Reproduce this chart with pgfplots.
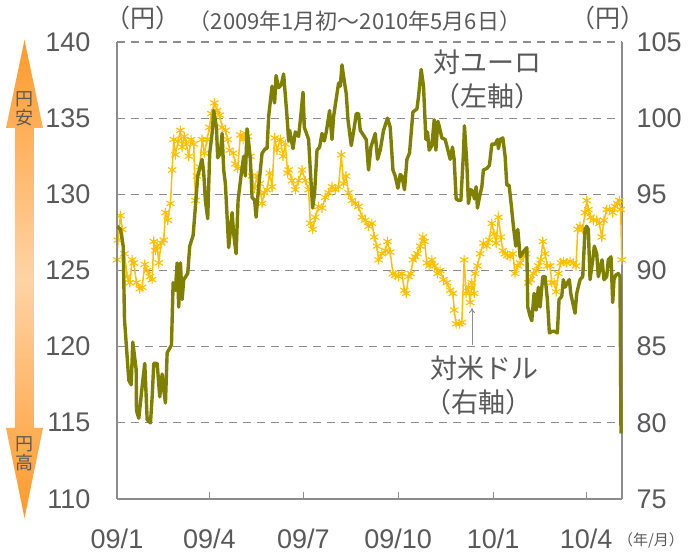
\documentclass[border=0pt]{standalone}
\usepackage{fontspec}
\setmainfont{Liberation Sans}
\newfontfamily\jp{Noto Sans CJK JP}
\usepackage{pgfplots}
\pgfplotsset{compat=1.18}
\usetikzlibrary{arrows.meta}
\definecolor{txt}{HTML}{595959}
\definecolor{eurc}{HTML}{808000}
\definecolor{usdc}{HTML}{FFC000}
\definecolor{gridc}{HTML}{8C8C8C}
\definecolor{arr}{HTML}{FF9A2A}
\definecolor{arrmid}{HTML}{FFD3A6}

\pgfplotstableread{
x y
0.7 127.9
4 127.7
6.7 126.6
8 121.8
12.3 117.8
14.7 117.5
16.3 120.3
19.7 118.5
20 115.8
22.3 115.3
25.7 117.4
28.3 118.9
30.7 115.2
34 115.0
35.7 116.7
37.3 118.9
40.7 118.9
43.3 116.7
45.7 118.2
47.3 117.2
49 116.3
50.7 119.6
55 120.1
56.7 124.2
59 123.7
60.7 125.5
62.3 122.6
64 125.5
65.7 123.1
67.3 124.4
71.3 124.8
73.3 126.6
76.7 127.3
79 129.2
81.3 131.2
85.7 132.3
87.3 131.4
89 129.6
91.3 128.4
93.3 132.7
95.7 134.0
97.3 135.5
100 134.4
101.3 132.4
104 132.7
105.7 134.0
107.3 131.6
109 130.7
112.3 126.5
115.7 128.8
117.3 127.4
119.7 126.1
121.7 129.6
125 131.4
127.3 132.5
129 131.2
130.7 134.3
132.3 133.4
134 132.3
135.7 129.8
138.3 129.6
139.7 128.5
142.3 130.5
145.7 132.7
149 133.0
150.7 133.0
152.3 135.1
155.7 137.1
158.3 136.0
159.7 137.8
162.3 137.0
165 137.2
167.3 137.9
170.7 135.1
172.3 133.5
173.3 134.2
176.7 133.0
179 134.1
182.3 133.8
184.7 135.3
186.7 136.7
188 134.4
192.3 133.6
194 131.6
196.3 129.1
198.3 130.1
200.7 132.9
203.3 133.1
205.7 134.0
208 133.5
210 134.1
213.3 135.5
215.7 133.6
217.3 135.1
220.7 136.6
222.3 137.3
224 137.1
225.7 138.5
228.3 137.3
230 136.6
231.7 134.9
235 133.2
238 134.4
240 135.3
242.3 135.3
244 134.2
250 133.6
252.3 131.6
254.7 133.1
259 134.0
261.3 132.3
264 132.9
267.3 134.2
271.3 135.0
274 134.4
276.7 131.6
279 131.2
281.7 130.4
284 131.3
285.7 131.2
288.3 130.3
290.7 132.3
293.3 132.7
296.7 135.4
300.7 135.6
302.3 136.4
305 138.2
307.3 137.1
309.7 133.6
311.3 134.1
313 132.9
315.7 133.2
318 134.9
319.7 132.9
321.7 134.8
323.3 134.4
325.7 133.7
329 133.6
331.7 132.9
334 132.3
336.3 133.1
338 132.3
340 129.7
342.3 129.6
344.7 129.6
347.3 132.7
348.3 134.5
350.7 132.0
352.3 129.4
354.7 130.3
356.7 130.2
358.3 129.7
360 130.5
361.3 129.1
363.3 129.8
365.7 130.5
367.3 131.6
370.7 131.7
373.3 131.9
375.7 133.3
379 133.3
381.3 133.6
382.3 133.0
384 133.6
386.7 133.7
389 132.5
390.7 130.6
393 130.6
395 129.4
397.3 127.9
399.7 126.6
401.7 127.7
404 125.9
406.3 126.1
408 126.3
410.7 126.5
411.7 122.6
414 122.0
415.7 121.7
418 123.5
420 122.4
422.3 123.9
424 122.6
426.7 124.6
429 124.6
431.3 123.1
433.3 120.9
435.7 121.0
439 121.0
441.3 120.9
443 123.1
445.7 123.3
447.3 124.4
449 123.9
451.3 124.2
453.3 124.4
454.7 123.5
457.3 122.7
459 122.2
460.7 123.5
464 124.4
466.7 124.6
469 127.7
470.7 127.9
472.3 127.7
474 124.4
476.7 125.7
478.3 126.6
480.7 126.1
482.3 124.6
484 125.1
486 125.7
488 124.4
490.7 124.6
492.3 125.7
495 125.9
496.7 122.9
498 124.4
499.7 124.7
502.3 124.8
504 124.6
505 114.3
}\eurtable

\pgfplotstableread{
x y
0.5 90.7
1.3 92.0
4 93.6
5.7 92.7
8 91.1
10.7 89.6
13.3 89.2
15.7 90.7
17.3 90.5
20 89.2
23.3 88.8
25.7 88.9
28.3 90.4
30.7 90.0
33.3 89.6
35.7 89.4
37.3 91.9
39 91.3
40.7 91.6
42.3 90.5
44.7 91.8
47.3 92.0
49 93.8
51.3 93.3
54 94.4
55.7 96.6
57.3 98.6
59 97.6
61.7 98.5
64 99.2
65.7 98.1
68 98.8
70 98.3
72.3 97.5
74.7 98.6
77.3 98.3
79 94.6
80.7 96.2
83.3 96.8
85.7 98.6
88 97.7
90.7 98.6
93 99.4
95 100.3
98 101.0
100.7 100.5
103.3 100.2
105.7 99.4
109 99.2
111.3 98.6
113.3 97.9
116.7 97.7
119 97.0
121.3 96.7
124 98.9
126.7 98.6
129 99.0
131.3 98.8
134 97.5
135.7 96.2
138 95.4
140.7 96.2
143.3 95.7
145.7 94.4
148 95.1
150.7 95.3
153.3 96.4
155.7 95.5
158.3 98.7
160.7 97.9
164 98.6
166.7 97.5
169 98.3
171.3 96.4
172.3 96.6
175.7 95.9
179 95.3
182.3 95.9
185.7 96.6
189 95.9
192.3 95.3
194 93.1
196.3 92.7
199 93.5
202.3 94.2
205.7 94.1
209 94.8
212.3 95.1
215.7 95.5
219 95.3
222.3 95.5
225 97.6
227.3 95.7
229.7 96.2
232.3 95.1
235.7 94.6
239 94.4
242.3 94.2
245.7 93.5
249 93.3
252.3 92.9
255.7 93.1
258 92.2
260.7 91.6
262.3 90.7
265.7 91.1
269 91.3
271.3 91.9
274 91.2
276.7 89.8
279 89.7
282.3 89.6
285.7 89.8
288 88.7
290 88.5
292.3 89.6
294.7 89.8
296.7 90.7
299 90.9
301.3 91.1
304 91.6
306.7 92.2
308.3 91.9
310.7 90.5
313 90.3
315.7 90.7
318.3 90.3
321.3 89.8
324 90.0
327.3 89.4
330.7 89.2
334 88.7
336.7 88.5
338 87.4
340 86.5
343.3 86.5
345.7 86.6
348 90.7
350 88.5
352.3 88.9
354 87.9
355.7 89.2
358 88.5
359 89.8
361.3 90.3
364 91.1
367.3 91.8
370.7 91.6
373 92.0
375.7 93.1
378 92.4
380 91.8
382.3 93.5
384.7 92.2
386.7 91.3
389 91.1
391.3 91.0
394 90.9
396.7 91.1
399 89.8
401.7 90.3
404 90.5
407.3 90.9
410 91.1
412.3 89.2
414.7 89.4
417.3 89.8
420 90.0
422.3 90.3
424.7 90.7
426.7 91.9
429 91.1
431.3 90.3
434 90.3
435.7 89.2
438 89.2
440 88.6
442.3 89.8
444.7 90.5
447.3 90.6
450.7 90.5
454 90.6
457.3 90.5
460 90.3
461.7 92.7
464 92.9
466.7 92.7
469 93.8
470.7 94.6
472.3 94.0
474.7 93.5
477.3 93.3
480.7 93.3
483.3 93.1
485.7 92.2
488 93.3
490.7 94.0
493.3 94.0
496.7 93.8
499 94.2
501.3 94.4
503.3 94.6
504.7 94.0
505.7 90.7
}\usdtable

\begin{document}
\begin{tikzpicture}[x=1pt,y=1pt]
\useasboundingbox (-117,-55) rectangle (572,499);

% right axis: yen per dollar
\begin{axis}[
  at={(0,0)}, anchor=south west,
  scale only axis, width=505pt, height=457pt,
  xmin=0.5, xmax=506, ymin=75, ymax=105,
  axis x line=none, axis y line*=right,
  ytick={75,80,...,105},
  ymajorgrids,
  grid style={gridc, line width=1.2pt, dash pattern=on 8pt off 6pt},
  axis line style={gridc, line width=1.3pt},
  major tick length=0pt,
  yticklabel style={font=\fontsize{27}{30}\selectfont, text=txt, xshift=11pt},
  /pgf/number format/assume math mode=true,
  clip=false,
]
\addplot[usdc, line width=1.5pt, mark=asterisk, mark size=4.8pt,
  mark options={solid, line width=1.1pt}] table[x=x, y=y] {\usdtable};
\end{axis}

% left axis: yen per euro
\begin{axis}[
  at={(0,0)}, anchor=south west,
  scale only axis, width=505pt, height=457pt,
  xmin=0.5, xmax=506, ymin=110, ymax=140,
  axis x line*=bottom, axis y line*=left,
  xtick={0.5,93,187,282,377,470},
  xticklabels={09/1,09/4,09/7,09/10,10/1,10/4},
  ytick={110,115,...,140},
  tick align=inside, major tick length=7pt,
  tick style={gridc, line width=1pt},
  axis line style={gridc, line width=1.3pt},
  yticklabel style={font=\fontsize{27}{30}\selectfont, text=txt, xshift=-23pt},
  xticklabel style={font=\fontsize{27}{30}\selectfont, text=txt, yshift=-26pt},
  /pgf/number format/assume math mode=true,
  clip=false,
]
\addplot[eurc, line width=3.4pt, line join=round] table[x=x, y=y] {\eurtable};
\end{axis}

% annotations
\node[text=txt, font=\jp\fontsize{25}{27}\selectfont] at (26,481) {（円）};
\node[text=txt, font=\jp\fontsize{22}{24}\selectfont] at (238,478) {（2009年1月初～2010年5月6日）};
\node[text=txt, font=\jp\fontsize{25}{27}\selectfont] at (491,481) {（円）};
\node[text=txt, font=\jp\fontsize{15}{17}\selectfont] at (534,-41) {（年/月）};

\node[text=txt, font=\jp\fontsize{27}{30}\selectfont] at (370,437) {対ユーロ};
\node[text=txt, font=\jp\fontsize{27}{30}\selectfont] at (370,403) {（左軸）};
\node[text=txt, font=\jp\fontsize{27}{30}\selectfont] at (367,131) {対米ドル};
\node[text=txt, font=\jp\fontsize{27}{30}\selectfont] at (361,97) {（右軸）};
\draw[gridc, line width=0.9pt, -{To[length=5pt,width=6pt]}] (355,154) -- (355,191);

% left double arrow
\shade[top color=arr, bottom color=arr, middle color=arrmid]
  (-92.5,459) -- (-74,371) -- (-83,371) -- (-83,71) -- (-74,71) -- (-92.5,-19)
  -- (-111,71) -- (-102,71) -- (-102,371) -- (-111,371) -- cycle;
\node[text=txt, font=\jp\fontsize{18}{20}\selectfont] at (-92.5,400) {円};
\node[text=txt, font=\jp\fontsize{18}{20}\selectfont] at (-92.5,381) {安};
\node[text=txt, font=\jp\fontsize{18}{20}\selectfont] at (-92.5,55) {円};
\node[text=txt, font=\jp\fontsize{18}{20}\selectfont] at (-92.5,36) {高};
\end{tikzpicture}
\end{document}
